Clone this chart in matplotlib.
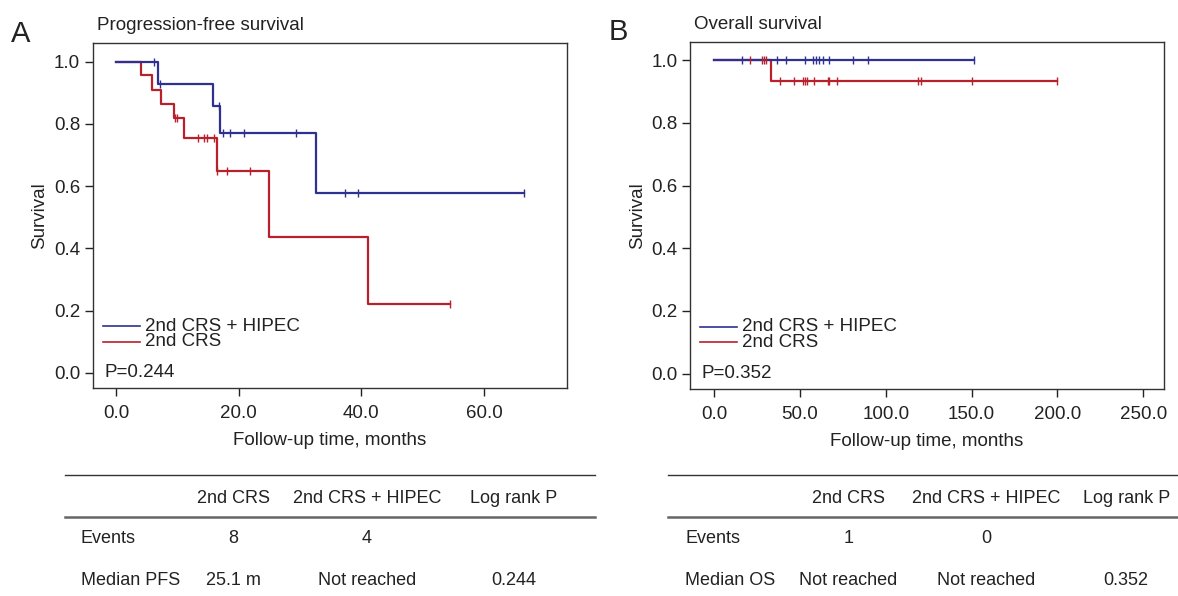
import numpy as np
import matplotlib.pyplot as plt
from matplotlib.lines import Line2D

plt.rcParams['font.family'] = ['Liberation Sans', 'DejaVu Sans']

BLUE = '#2E3192'
RED = '#B8202B'
INK = '#222222'
FS = 13.5
TFS = 13

# Panel A: progression-free survival (step times / survival levels)
pfs_hipec_t = [0, 6.9, 15.8, 16.9, 32.6, 66.6]
pfs_hipec_s = [1.0, 0.929, 0.857, 0.771, 0.578, 0.578]
pfs_hipec_cens = [6.2, 7.1, 16.8, 17.5, 18.6, 20.9, 29.4, 37.4, 39.5, 66.6]
pfs_crs_t = [0, 4.0, 5.8, 7.3, 9.5, 11.1, 16.4, 25.0, 41.1, 54.5]
pfs_crs_s = [1.0, 0.957, 0.909, 0.864, 0.818, 0.756, 0.649, 0.435, 0.221, 0.221]
pfs_crs_cens = [9.6, 10.0, 13.4, 14.4, 14.8, 16.0, 16.5, 18.1, 21.9, 54.5]

# Panel B: overall survival
os_hipec_t = [0, 151.5]
os_hipec_s = [1.0, 1.0]
os_hipec_cens = [16.5, 36.8, 41.7, 53.0, 57.4, 59.2, 61.1, 63.3, 67.1,
                 81.1, 89.5, 151.5]
os_crs_t = [0, 33.0, 199.5]
os_crs_s = [1.0, 0.933, 0.933]
os_crs_cens = [21.0, 27.7, 29.1, 30.1, 38.4, 46.7, 51.6, 53.0, 54.0, 58.4,
               66.2, 67.1, 71.8, 118.9, 120.8, 150.3, 199.5]

pfs_xticks = [0, 20, 40, 60]
os_xticks = [0, 50, 100, 150, 200, 250]
yticks = [0.0, 0.2, 0.4, 0.6, 0.8, 1.0]

table_header = ['2nd CRS', '2nd CRS + HIPEC', 'Log rank P']
pfs_rows = [['Events', '8', '4', ''],
            ['Median PFS', '25.1 m', 'Not reached', '0.244']]
os_rows = [['Events', '1', '0', ''],
           ['Median OS', 'Not reached', 'Not reached', '0.352']]


def level_at(t, times, surv):
    idx = np.searchsorted(times, t, side='right') - 1
    return np.array(surv)[idx]


def km_panel(ax, curves, xticks, xlim, title, letter, pval):
    for times, surv, cens, col in curves:
        ax.step(times, surv, where='post', color=col, lw=1.6)
    for times, surv, cens, col in curves:
        ax.plot(cens, level_at(cens, times, surv), ls='none', marker='|',
                ms=6, mew=1.0, color=col)
    ax.set_xlim(*xlim)
    ax.set_ylim(-0.05, 1.059)
    ax.set_xticks(xticks)
    ax.set_xticklabels(['%.1f' % v for v in xticks])
    ax.set_yticks(yticks)
    ax.set_yticklabels(['%.1f' % v for v in yticks])
    ax.tick_params(labelsize=FS, colors=INK, length=6, width=1, pad=3)
    ax.tick_params(axis='x', pad=6)
    for sp in ax.spines.values():
        sp.set_color('#333333')
        sp.set_linewidth(1.0)
    ax.set_xlabel('Follow-up time, months', fontsize=FS, color=INK, labelpad=7)
    ax.set_ylabel('Survival', fontsize=FS, color=INK, labelpad=4)
    ax.text(0.008, 1.026, title, transform=ax.transAxes, fontsize=FS,
            color=INK, va='bottom', ha='left')
    ax.text(0.025, 0.045, pval, transform=ax.transAxes, fontsize=FS,
            color=INK, va='center', ha='left')
    # legend drawn by hand to keep the tight spacing
    for k, (lab, col) in enumerate([('2nd CRS + HIPEC', BLUE), ('2nd CRS', RED)]):
        yy = 0.18 - k * 0.045
        ax.add_line(Line2D([0.022, 0.10], [yy, yy], transform=ax.transAxes,
                           color=col, lw=1.2))
        ax.text(0.11, yy, lab, transform=ax.transAxes, fontsize=FS,
                color=INK, va='center', ha='left')
    pos = ax.get_position()
    ax.figure.text(pos.x0 - 0.069, pos.y1 - 0.007, letter, fontsize=21,
                   color=INK, ha='left', va='bottom')


def draw_table(fig, x0, x1, label_x, col_x, rows):
    fig.add_artist(Line2D([x0, x1], [0.203, 0.203], color='#333333', lw=1.0))
    fig.add_artist(Line2D([x0, x1], [0.133, 0.133], color='#666666', lw=1.8))
    for cx, h in zip(col_x, table_header):
        fig.text(cx, 0.164, h, fontsize=TFS, color=INK, ha='center',
                 va='center')
    for ry, row in zip([0.0968, 0.0268], rows):
        fig.text(label_x, ry, row[0], fontsize=TFS, color=INK, ha='left',
                 va='center')
        for cx, v in zip(col_x, row[1:]):
            fig.text(cx, ry, v, fontsize=TFS, color=INK, ha='center',
                     va='center')


fig = plt.figure(figsize=(11.78, 5.96), dpi=100)
axA = fig.add_axes([0.0787, 0.3485, 0.4029, 0.5788])
axB = fig.add_axes([0.5857, 0.3468, 0.4024, 0.5832])

km_panel(axA, [(pfs_crs_t, pfs_crs_s, pfs_crs_cens, RED),
               (pfs_hipec_t, pfs_hipec_s, pfs_hipec_cens, BLUE)],
         pfs_xticks, (-3.8, 73.6), 'Progression-free survival', 'A', 'P=0.244')
km_panel(axB, [(os_crs_t, os_crs_s, os_crs_cens, RED),
               (os_hipec_t, os_hipec_s, os_hipec_cens, BLUE)],
         os_xticks, (-14, 262), 'Overall survival', 'B', 'P=0.352')

draw_table(fig, 0.0552, 0.505, 0.0685, [0.198, 0.3113, 0.4363], pfs_rows)
draw_table(fig, 0.567, 1.0, 0.5815, [0.720, 0.837, 0.956], os_rows)

fig.savefig('out.png', dpi=100)
